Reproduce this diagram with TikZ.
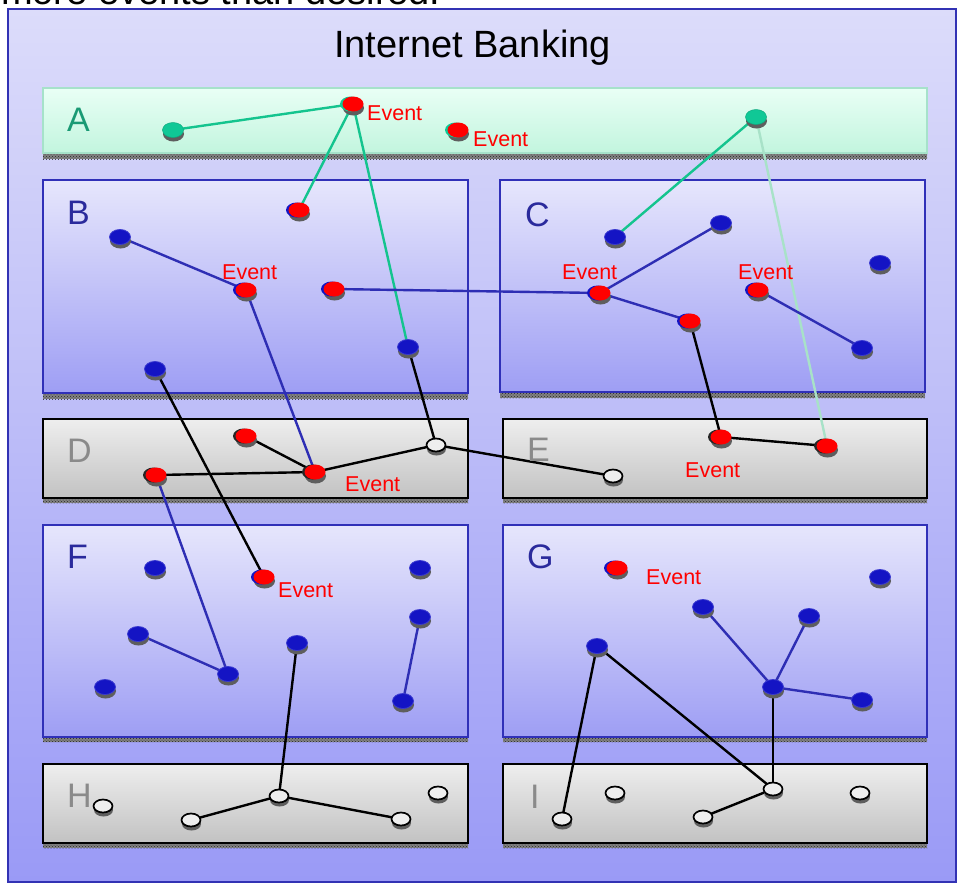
\documentclass[tikz,border=0pt]{standalone}
\usepackage{fontspec}
\setmainfont{Liberation Sans}
\usetikzlibrary{shapes.geometric,shadows,patterns}
\pgfdeclarelayer{bg}\pgfdeclarelayer{edges}
\pgfsetlayers{bg,edges,main}
\definecolor{bgtop}{HTML}{DCDCFA}
\definecolor{bgbot}{HTML}{9A9AF6}
\definecolor{framec}{HTML}{3232B4}
\definecolor{patop}{HTML}{E9FFF5}
\definecolor{pabot}{HTML}{C2F5DE}
\definecolor{pabord}{HTML}{A6E2CA}
\definecolor{pbtop}{HTML}{E6E6FC}
\definecolor{pbbot}{HTML}{9E9EF4}
\definecolor{pbbord}{HTML}{3030B8}
\definecolor{pdtop}{HTML}{EEEEEE}
\definecolor{pdbot}{HTML}{C2C2C2}
\definecolor{letA}{HTML}{1A9A74}
\definecolor{letB}{HTML}{2A2A9C}
\definecolor{letD}{HTML}{8A8A8A}
\definecolor{nblue}{HTML}{1414C4}
\definecolor{nblueb}{HTML}{3A3AD0}
\definecolor{ngreen}{HTML}{10C896}
\definecolor{egreen}{HTML}{14C48E}
\definecolor{eblue}{HTML}{2E2EB4}
\definecolor{elight}{HTML}{A8E2C8}
\definecolor{shadowc}{HTML}{5E5E5E}
\tikzset{
  panelA/.style={draw=pabord, line width=2pt, top color=patop, bottom color=pabot},
  panelB/.style={draw=pbbord, line width=2pt, top color=pbtop, bottom color=pbbot},
  panelD/.style={draw=black, line width=2pt, top color=pdtop, bottom color=pdbot},
  strip/.style={pattern=crosshatch dots, pattern color=black!85, preaction={fill=gray!60!black!70}},
  dot/.style={ellipse, minimum width=21pt, minimum height=15pt, inner sep=0pt,
    drop shadow={shadow xshift=0.5pt, shadow yshift=-4pt, opacity=1, fill=shadowc}},
  bnode/.style={dot, fill=nblue, draw=nblueb, line width=0.8pt},
  gnode/.style={dot, fill=ngreen, draw=ngreen!85!black, line width=0.5pt},
  wnode/.style={dot, fill=pdtop, draw=black, line width=1.7pt, minimum width=19pt, minimum height=13pt},
  rnode/.style={dot, fill=red, general shadow={shadow xshift=-2.5pt, opacity=1, fill=#1}},
  evlabel/.style={anchor=west, inner sep=0pt, text=red, font=\fontsize{21.5}{21.5}\selectfont},
  letter/.style={anchor=west, inner sep=0pt, font=\fontsize{34}{34}\selectfont},
  lgreen/.style={draw=egreen, line width=2.4pt},
  lblue/.style={draw=eblue, line width=2.4pt},
  lblack/.style={draw=black, line width=2.4pt},
  llight/.style={draw=elight, line width=2.4pt},
}
\begin{document}
\begin{tikzpicture}[x=1pt,y=-1pt]
\useasboundingbox (0,0) rectangle (957,884);
\begin{pgfonlayer}{bg}
  \fill[white] (0,0) rectangle (957,884);
  \shade[top color=bgtop, bottom color=bgbot] (8,9) rectangle (956,882);
  \draw[framec, line width=2pt] (8,9) rectangle (956,882);
  % panels with shadow strips
  \fill[strip] (43,153) rectangle (927,159);
  \draw[panelA] (43,88) rectangle (927,153);
  \fill[strip] (43,393) rectangle (468,399);
  \draw[panelB] (43,180) rectangle (468,393);
  \fill[strip] (500,392) rectangle (925,398);
  \draw[panelB] (500,180) rectangle (925,392);
  \fill[strip] (43,498) rectangle (468,503);
  \draw[panelD] (43,419) rectangle (468,498);
  \fill[strip] (503,498) rectangle (927,503);
  \draw[panelD] (503,419) rectangle (927,498);
  \fill[strip] (43,737) rectangle (468,742);
  \draw[panelB] (43,525) rectangle (468,737);
  \fill[strip] (503,737) rectangle (927,742);
  \draw[panelB] (503,525) rectangle (927,737);
  \fill[strip] (43,843) rectangle (468,848);
  \draw[panelD] (43,764) rectangle (468,843);
  \fill[strip] (503,843) rectangle (927,848);
  \draw[panelD] (503,764) rectangle (927,843);
\end{pgfonlayer}
% texts
\node[anchor=base west, inner sep=0pt, font=\fontsize{38}{38}\selectfont] (toptext) at (1,4) {more events than desired.};
\node[anchor=base, inner sep=0pt, font=\fontsize{38}{38}\selectfont] (title) at (472.5,57) {Internet Banking};
\node[letter, text=letA] (LA) at (67,120) {A};
\node[letter, text=letB] (LB) at (67,213) {B};
\node[letter, text=letB] (LC) at (525,215) {C};
\node[letter, text=letD] (LD) at (67,451) {D};
\node[letter, text=letD] (LE) at (527,450) {E};
\node[letter, text=letB] (LF) at (67,557) {F};
\node[letter, text=letB] (LG) at (527,557) {G};
\node[letter, text=letD] (LH) at (67,796) {H};
\node[letter, text=letD] (LI) at (530,797) {I};
% panel A
\node[gnode] (a1) at (173,130) {};
\node[rnode=ngreen] (a2) at (353,104) {};
\node[rnode=ngreen] (a3) at (458,130) {};
\node[gnode] (a4) at (756,117) {};
\node[evlabel] (ea2) at (367,113) {Event};
\node[evlabel] (ea3) at (473,139) {Event};
% panel B
\node[bnode] (b1) at (120,237) {};
\node[rnode=nblue] (b2) at (299,210) {};
\node[rnode=nblue] (b3) at (246,290) {};
\node[rnode=nblue] (b4) at (334,289) {};
\node[bnode] (b5) at (408,347) {};
\node[bnode] (b6) at (155,369) {};
\node[evlabel] (eb3) at (222,272) {Event};
% panel C
\node[bnode] (c1) at (615,237) {};
\node[bnode] (c2) at (721,223) {};
\node[rnode=nblue] (c3) at (600,293) {};
\node[rnode=nblue] (c4) at (690,321) {};
\node[rnode=nblue] (c5) at (758,290) {};
\node[bnode] (c6) at (880,263) {};
\node[bnode] (c7) at (862,348) {};
\node[evlabel] (ec3) at (562,272) {Event};
\node[evlabel] (ec5) at (738,272) {Event};
% panel D
\node[rnode=black!85] (d1) at (246,436) {};
\node[rnode=black!85] (d2) at (156,475) {};
\node[rnode=black!85] (d3) at (315,472) {};
\node[wnode] (d4) at (436,445) {};
\node[evlabel] (ed3) at (345,484) {Event};
% panel E
\node[wnode] (e1) at (613,476) {};
\node[rnode=black!85] (e2) at (721,437) {};
\node[rnode=black!85] (e3) at (827,446) {};
\node[evlabel] (ee2) at (685,470) {Event};
% panel F
\node[bnode] (f1) at (155,568) {};
\node[rnode=nblue] (f2) at (264,577) {};
\node[bnode] (f3) at (420,568) {};
\node[bnode] (f4) at (138,634) {};
\node[bnode] (f5) at (228,674) {};
\node[bnode] (f6) at (297,643) {};
\node[bnode] (f7) at (420,617) {};
\node[bnode] (f8) at (105,687) {};
\node[bnode] (f9) at (403,701) {};
\node[evlabel] (ef2) at (278,590) {Event};
% panel G
\node[rnode=nblue] (g1) at (617,568) {};
\node[bnode] (g2) at (880,577) {};
\node[bnode] (g3) at (703,607) {};
\node[bnode] (g4) at (809,616) {};
\node[bnode] (g5) at (597,646) {};
\node[bnode] (g6) at (773,687) {};
\node[bnode] (g7) at (862,700) {};
\node[evlabel] (eg1) at (646,577) {Event};
% panel H
\node[wnode] (h1) at (103,806) {};
\node[wnode] (h2) at (191,820) {};
\node[wnode] (h3) at (279,796) {};
\node[wnode] (h4) at (401,819) {};
\node[wnode] (h5) at (438,793) {};
% panel I
\node[wnode] (i1) at (562,819) {};
\node[wnode] (i2) at (615,793) {};
\node[wnode] (i3) at (703,817) {};
\node[wnode] (i4) at (773,789) {};
\node[wnode] (i5) at (860,793) {};
% connectors
\begin{pgfonlayer}{edges}
  \draw[lgreen] (a1.center) -- (a2.center);
  \draw[lgreen] (a2.center) -- (b2.center);
  \draw[lgreen] (a2.center) -- (b5.center);
  \draw[lgreen] (a4.center) -- (c1.center);
  \draw[llight] (a4.center) -- (e3.center);
  \draw[lblue] (b1.center) -- (b3.center);
  \draw[lblue] (b3.center) -- (d3.center);
  \draw[lblue] (b4.center) -- (c3.center);
  \draw[lblue] (c3.center) -- (c2.center);
  \draw[lblue] (c3.center) -- (c4.center);
  \draw[lblue] (c5.center) -- (c7.center);
  \draw[lblack] (c4.center) -- (e2.center);
  \draw[lblack] (e2.center) -- (e3.center);
  \draw[lblack] (b5.center) -- (d4.center);
  \draw[lblack] (d4.center) -- (e1.center);
  \draw[lblack] (d1.center) -- (d3.center);
  \draw[lblack] (d2.center) -- (d3.center);
  \draw[lblack] (d3.center) -- (d4.center);
  \draw[lblack] (b6.center) -- (f2.center);
  \draw[lblue] (d2.center) -- (f5.center);
  \draw[lblue] (f4.center) -- (f5.center);
  \draw[lblue] (f7.center) -- (f9.center);
  \draw[lblack] (f6.center) -- (h3.center);
  \draw[lblack] (h2.center) -- (h3.center);
  \draw[lblack] (h3.center) -- (h4.center);
  \draw[lblue] (g3.center) -- (g6.center);
  \draw[lblue] (g4.center) -- (g6.center);
  \draw[lblue] (g6.center) -- (g7.center);
  \draw[lblack] (g5.center) -- (i1.center);
  \draw[lblack] (g5.center) -- (i4.center);
  \draw[lblack] (g6.center) -- (i4.center);
  \draw[lblack] (i3.center) -- (i4.center);
\end{pgfonlayer}
\end{tikzpicture}
\end{document}
